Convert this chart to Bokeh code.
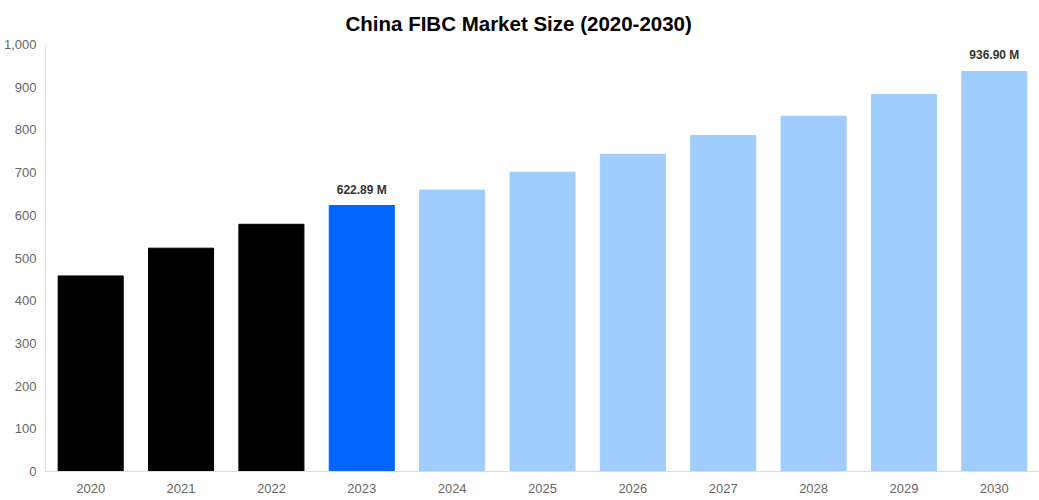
from bokeh.plotting import figure
from bokeh.models import ColumnDataSource, NumeralTickFormatter, SingleIntervalTicker, Range1d, LabelSet, Title
from bokeh.core.properties import value
from bokeh.embed import file_html
from bokeh.resources import INLINE

years = ["2020", "2021", "2022", "2023", "2024", "2025", "2026", "2027", "2028", "2029", "2030"]
values = [458, 523, 579, 622.89, 659, 701, 743, 787, 832, 883, 936.90]
colors = ["#000000", "#000000", "#000000", "#0066FF", "#A1CDFE", "#A1CDFE",
          "#A1CDFE", "#A1CDFE", "#A1CDFE", "#A1CDFE", "#A1CDFE"]
labels = ["", "", "", "622.89 M", "", "", "", "", "", "", "936.90 M"]

FONT = "Liberation Sans"

src = ColumnDataSource(dict(x=years, top=values, color=colors, label=labels))

p = figure(x_range=years, width=1039, height=500, output_backend="svg",
           toolbar_location=None, min_border_left=45, min_border_right=0,
           min_border_top=43, min_border_bottom=29)
p.y_range = Range1d(0, 1000)

p.vbar(x="x", top="top", width=0.72, color="color", source=src)

p.add_layout(LabelSet(x="x", y="top", text="label", source=src, text_align="center",
                      text_baseline="bottom", y_offset=9, text_font_size="12px",
                      text_font_style="bold", text_color="#333333", text_font=value(FONT)))

t = Title(text="China FIBC Market Size (2020-2030)", align="left", offset=300,
          text_font_size="20.5px", text_font_style="bold", text_color="#000000",
          text_font=FONT, standoff=19)
p.add_layout(t, "above")
p.title.visible = False

p.outline_line_color = None
p.xgrid.grid_line_color = None
p.ygrid.grid_line_color = None

p.yaxis.ticker = SingleIntervalTicker(interval=100)
p.yaxis.formatter = NumeralTickFormatter(format="0,0")
for ax in (p.xaxis[0], p.yaxis[0]):
    ax.axis_line_color = "#dddddd"
    ax.major_tick_line_color = None
    ax.minor_tick_line_color = None
    ax.major_tick_out = 0
    ax.major_tick_in = 0
    ax.minor_tick_out = 0
    ax.minor_tick_in = 0
    ax.major_label_text_color = "#666666"
    ax.major_label_text_font_size = "13px"
    ax.major_label_text_font = FONT
p.yaxis[0].major_label_standoff = 9
p.xaxis[0].major_label_standoff = 12

open("out.html", "w").write(file_html(p, INLINE))
